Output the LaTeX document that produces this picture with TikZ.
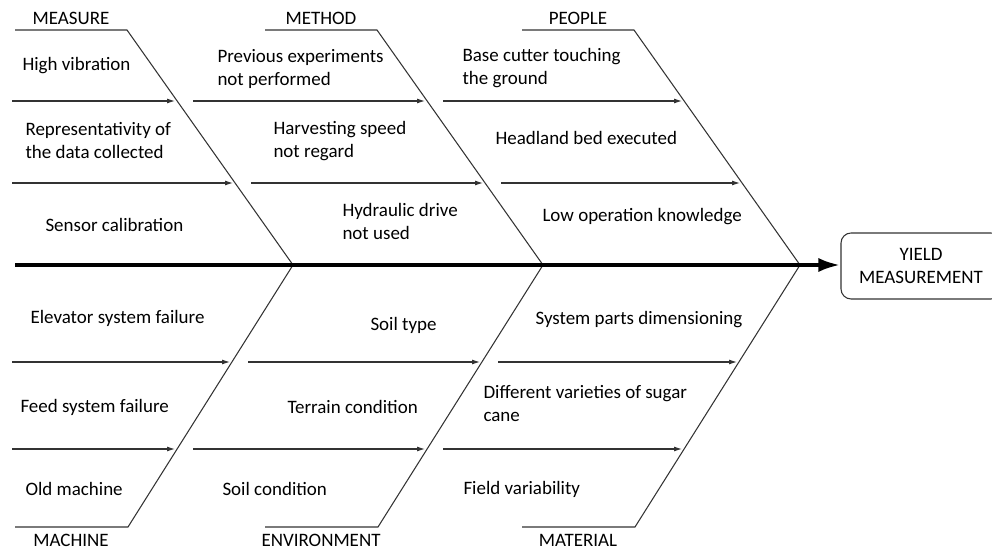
\documentclass[tikz,border=0pt]{standalone}
\usepackage{fontspec}
\setmainfont{Carlito}
\usetikzlibrary{positioning, arrows.meta}
\tikzset{
	topbone/.pic = {
	 \coordinate (-tip1) at (-118,-164) ;
	 \coordinate (-tip2) at (-60,-82) ;
	 \coordinate (-next1) at (-100,-164) ;
	 \coordinate (-next2) at (-42,-82) ;
	 \coordinate (-name) at (-222,-235) ;
	 \draw (-278,-235) -- (-166,-235) -- (0,0);
	 }
	}
\tikzset{
	botbone/.pic = {
	 \coordinate (-tip1) at (-63,97) ;
	 \coordinate (-tip2) at (-118,184) ;
	 \coordinate (-next1) at (-45,97) ;
	 \coordinate (-next2) at (-100,184) ;
	 \coordinate (-name) at (-222,262) ;
	 \draw (-278,262) -- (-165,262) -- (0,0);
	 }
	}
\tikzset{
	cause/.style = {-{Latex[length=1.6mm,width=1mm]}},
	txt/.style = {anchor=west, inner sep=0pt, align=left}
	}

\begin{document}
\begin{tikzpicture}[x=0.02cm, y=-0.02cm, node distance=1pt, line width=0.6pt, draw=black!80,
	font=\fontsize{10.8}{13.1}\selectfont]
\useasboundingbox (0,0) rectangle (992,550);

% BONES
\pic (mea) at (293,265) {topbone};
\pic (met) at (543,265) {topbone};
\pic (peo) at (800,265) {topbone};
\pic (mac) at (293,265) {botbone};
\pic (env) at (543,265) {botbone};
\pic (mat) at (800,265) {botbone};
\coordinate (tail) at (15,265);
\coordinate (in1) at (12,101);
\coordinate (in2) at (12,183);
\coordinate (in3) at (12,362);
\coordinate (in4) at (12,449);

% NODES
% effect
\node (effect) [draw, rounded corners=0.2cm, minimum width=3.2cm, minimum height=1.32cm, align=center] at (921,266) {YIELD\\MEASUREMENT};
% categories
\node (measure) [above=-0.5pt of mea-name] {MEASURE};
\node (method) [above=-0.5pt of met-name] {METHOD};
\node (people) [above=-0.5pt of peo-name] {PEOPLE};
\node (machine) [below=0.5pt of mac-name] {MACHINE};
\node (environment) [below=0.5pt of env-name] {ENVIRONMENT};
\node (material) [below=0.5pt of mat-name] {MATERIAL};
% measure
\node (hv) [txt] at (22,66) {High vibration};
\node (rep) [txt] at (25,141) {Representativity of\\the data collected};
\node (sens) [txt] at (45,225) {Sensor calibration};
% method
\node (prev) [txt] at (217,69) {Previous experiments\\not performed};
\node (harv) [txt] at (273,141) {Harvesting speed\\not regard};
\node (hyd) [txt] at (342,221) {Hydraulic drive\\not used};
% people
\node (base) [txt] at (462,68) {Base cutter touching\\the ground};
\node (head) [txt] at (495,138) {Headland bed executed};
\node (low) [txt] at (542,217) {Low operation knowledge};
% machine
\node (elev) [txt] at (30,318) {Elevator system failure};
\node (feed) [txt] at (20,407) {Feed system failure};
\node (old) [txt] at (25,489) {Old machine};
% environment
\node (soilt) [txt] at (370,325) {Soil type};
\node (terr) [txt] at (287,407) {Terrain condition};
\node (soilc) [txt] at (222,489) {Soil condition};
% material
\node (sysp) [txt] at (535,320) {System parts dimensioning};
\node (diff) [txt] at (483,404) {Different varieties of sugar\\cane};
\node (field) [txt] at (463,489) {Field variability};

%CONNECTIONS
\draw [line width=2.3pt, draw=black, -{Latex[length=0.44cm,width=0.28cm]}] (tail) -- (tail -| effect.west);
\draw [cause] (in1) -- (mea-tip1);
\draw [cause] (in2) -- (mea-tip2);
\draw [cause] (mea-next1) -- (met-tip1);
\draw [cause] (mea-next2) -- (met-tip2);
\draw [cause] (met-next1) -- (peo-tip1);
\draw [cause] (met-next2) -- (peo-tip2);
\draw [cause] (in3) -- (mac-tip1);
\draw [cause] (in4) -- (mac-tip2);
\draw [cause] (mac-next1) -- (env-tip1);
\draw [cause] (mac-next2) -- (env-tip2);
\draw [cause] (env-next1) -- (mat-tip1);
\draw [cause] (env-next2) -- (mat-tip2);

\end{tikzpicture}
\end{document}
